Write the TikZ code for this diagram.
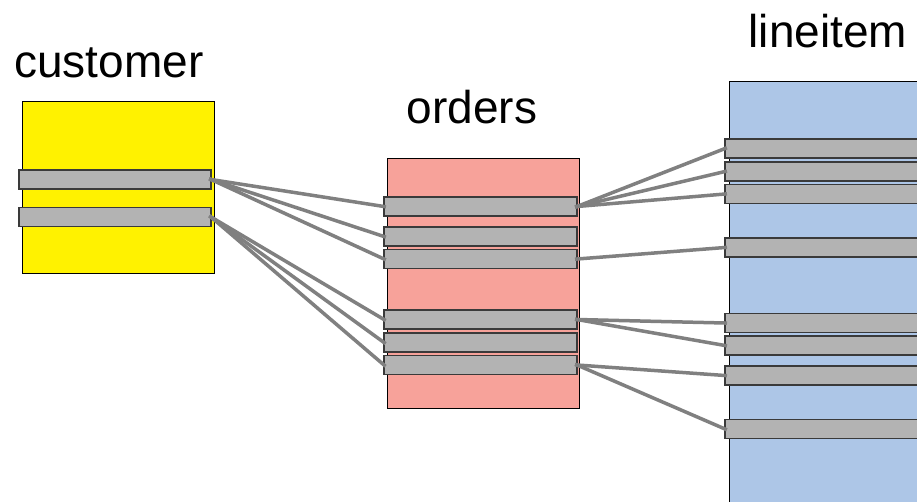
\documentclass[tikz,border=0pt]{standalone}
\usepackage{fontspec}
\setmainfont{Liberation Sans}
\definecolor{custfill}{HTML}{FFF200}
\definecolor{ordfill}{HTML}{F7A29A}
\definecolor{linefill}{HTML}{ADC6E7}
\definecolor{rowfill}{HTML}{B3B3B3}
\definecolor{rowdraw}{HTML}{3A3A3A}
\definecolor{linkcol}{HTML}{808080}
\tikzset{
  table/.style={draw=black, line width=0.9pt, anchor=north west, inner sep=0pt, outer sep=0pt},
  rowbox/.style={draw=rowdraw, fill=rowfill, line width=1.3pt, anchor=north west, inner sep=0pt, outer sep=0pt, minimum height=19pt},
  link/.style={draw=linkcol, line width=3.5pt, shorten <=-2pt, shorten >=-2pt},
  title/.style={anchor=base, inner sep=0pt, font=\fontsize{46}{50}\selectfont}
}
\begin{document}
\begin{tikzpicture}[x=1pt,y=-1pt]
\path[use as bounding box, clip] (0,0) rectangle (917,501);
\fill[white] (0,0) rectangle (917,501);
% tables
\node[table, fill=custfill, minimum width=192pt, minimum height=172pt] (cust) at (22,101) {};
\node[table, fill=ordfill, minimum width=192pt, minimum height=250pt] (ord) at (387,158) {};
\node[table, fill=linefill, minimum width=200pt, minimum height=430pt] (li) at (729,81) {};
% titles
\node[title] (tcust) at (109,77) {customer};
\node[title] (tord) at (472,123) {orders};
\node[title] (tli) at (828,47) {lineitem};
% links (drawn beneath rows)
\coordinate (dummy) at (0,0);
% rows
\node[rowbox, minimum width=192pt] (c1) at (19,170) {};
\node[rowbox, minimum width=192pt] (c2) at (19,207.5) {};
\node[rowbox, minimum width=193pt] (o1) at (384,197) {};
\node[rowbox, minimum width=193pt] (o2) at (384,227) {};
\node[rowbox, minimum width=193pt] (o3) at (384,249.5) {};
\node[rowbox, minimum width=193pt] (o4) at (384,310) {};
\node[rowbox, minimum width=193pt] (o5) at (384,333) {};
\node[rowbox, minimum width=193pt] (o6) at (384,355.5) {};
\node[rowbox, minimum width=200pt] (l1) at (725,139) {};
\node[rowbox, minimum width=200pt] (l2) at (725,162) {};
\node[rowbox, minimum width=200pt] (l3) at (725,184.5) {};
\node[rowbox, minimum width=200pt] (l4) at (725,238) {};
\node[rowbox, minimum width=200pt] (l5) at (725,313.5) {};
\node[rowbox, minimum width=200pt] (l6) at (725,336) {};
\node[rowbox, minimum width=200pt] (l7) at (725,366) {};
\node[rowbox, minimum width=200pt] (l8) at (725,419.5) {};
% links
\draw[link] (c1.east) -- (o1.west);
\draw[link] (c1.east) -- (o2.west);
\draw[link] (c1.east) -- (o3.west);
\draw[link] (c2.east) -- (o4.west);
\draw[link] (c2.east) -- (o5.west);
\draw[link] (c2.east) -- (o6.west);
\draw[link] (o1.east) -- (l1.west);
\draw[link] (o1.east) -- (l2.west);
\draw[link] (o1.east) -- (l3.west);
\draw[link] (o3.east) -- (l4.west);
\draw[link] (o4.east) -- (l5.west);
\draw[link] (o4.east) -- (l6.west);
\draw[link] (o6.east) -- (l7.west);
\draw[link] (o6.east) -- (l8.west);
\end{tikzpicture}
\end{document}
